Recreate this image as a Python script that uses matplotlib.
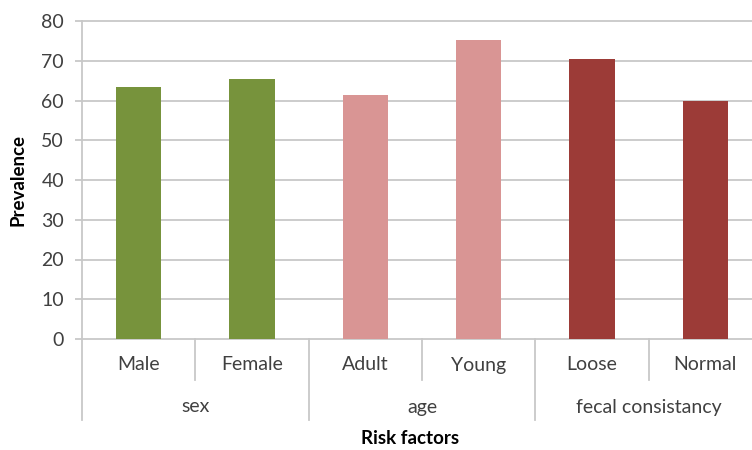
import matplotlib
matplotlib.use("Agg")
import matplotlib.pyplot as plt
from matplotlib.transforms import blended_transform_factory

# Prevalence by risk factor, grouped by factor type
categories = ["Male", "Female", "Adult", "Young", "Loose", "Normal"]
prevalence = [63.5, 65.5, 61.5, 75.2, 70.4, 60.0]
groups = ["sex", "age", "fecal consistancy"]
group_sizes = [2, 2, 2]
group_colors = ["#77933c", "#d99594", "#9c3b37"]

plt.rcParams["font.family"] = ["Lato", "DejaVu Sans"]

W, H = 752, 450
fig = plt.figure(figsize=(W / 100, H / 100), dpi=100)
left, right, bottom, top = 82, 752, 339, 21
ax = fig.add_axes([left / W, (H - bottom) / H, (right - left) / W, (bottom - top) / H])

colors = []
for c, n in zip(group_colors, group_sizes):
    colors += [c] * n

x = list(range(len(categories)))
ax.bar(x, prevalence, width=0.4, color=colors, zorder=3)

# six slots of 113.3 px each; the last one runs past the figure edge
slot = 680 / 6
ax.set_xlim(-0.5, -0.5 + (right - left) / slot)
ax.set_ylim(0, 80)
ax.set_yticks(range(0, 81, 10))
ax.set_xticks([])

grid_c = "#c8c8c8"
ax.grid(axis="y", color=grid_c, linewidth=1.3, zorder=0)
for gl in ax.get_ygridlines():
    gl.set_clip_on(False)
for s in ["top", "right", "bottom"]:
    ax.spines[s].set_visible(False)
ax.spines["left"].set_color(grid_c)
ax.spines["left"].set_linewidth(1.3)
ax.tick_params(axis="y", length=5, color=grid_c, width=1.3, pad=8,
               labelsize=14, labelcolor="#404040")

# two-level category axis
trans = blended_transform_factory(ax.transData, ax.transAxes)
ax_h = bottom - top
cat_drop = -41 / ax_h
grp_drop = -81 / ax_h
bounds = [0]
for n in group_sizes:
    bounds.append(bounds[-1] + n)
for i in range(len(categories) + 1):
    drop = grp_drop if i in bounds else cat_drop
    ax.plot([i - 0.5, i - 0.5], [0, drop], color=grid_c, linewidth=1.3,
            transform=trans, clip_on=False)
for i, name in enumerate(categories):
    ax.text(i, -26 / ax_h, name, transform=trans, ha="center", va="center",
            fontsize=14, color="#404040")
for g, name in enumerate(groups):
    mid = (bounds[g] + bounds[g + 1] - 1) / 2
    ax.text(mid, -68 / ax_h, name, transform=trans, ha="center", va="center",
            fontsize=14, color="#404040")

fig.text(410 / W, 1 - 438 / H, "Risk factors", ha="center", va="center",
         fontsize=13.5, fontweight="bold")
fig.text(18 / W, 1 - 180 / H, "Prevalence", ha="center", va="center",
         rotation=90, fontsize=13.5, fontweight="bold")

fig.savefig("out.png", dpi=100)
